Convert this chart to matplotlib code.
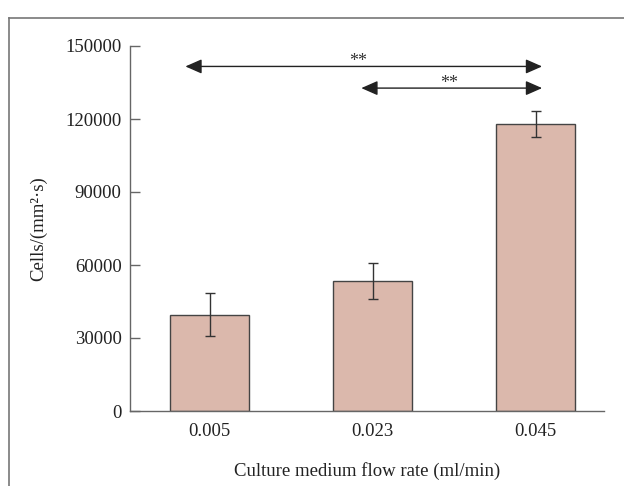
import matplotlib
matplotlib.use("Agg")
import matplotlib.pyplot as plt
from matplotlib.lines import Line2D

categories = ["0.005", "0.023", "0.045"]
values = [39500, 53400, 118100]
errors = [8800, 7500, 5300]
yticks = [0, 30000, 60000, 90000, 120000, 150000]

plt.rcParams['font.family'] = ['Liberation Serif', 'DejaVu Serif']

fig = plt.figure(figsize=(6.24, 4.86), dpi=100)
ax = fig.add_axes([130/624, 1-411/486, (604-130)/624, (411-46)/486])

x = list(range(len(categories)))
ax.bar(x, values, width=0.485, color='#dbb8ac', edgecolor='#444444', linewidth=1.0, zorder=2)
ax.errorbar(x, values, yerr=errors, fmt='none', ecolor='#333333', elinewidth=1.0,
            capsize=3.6, capthick=1.0, zorder=3)

ax.set_xlim(-0.49, 2.42)
ax.set_ylim(0, 150000)
ax.set_yticks(yticks)
ax.set_yticklabels([str(t) for t in yticks])
ax.set_xticks(x)
ax.set_xticklabels(categories)

for s in ['top', 'right']:
    ax.spines[s].set_visible(False)
for s in ['left', 'bottom']:
    ax.spines[s].set_color('#666666')
    ax.spines[s].set_linewidth(1.0)

ax.tick_params(axis='y', direction='in', length=7, width=1, color='#666666',
               labelsize=13.5, pad=6, labelcolor='#222222')
ax.tick_params(axis='x', length=0, labelsize=13.5, pad=8.5, labelcolor='#222222')

ax.set_ylabel("Cells/(mm²·s)", fontsize=13.5, color='#222222', labelpad=13)
ax.set_xlabel("Culture medium flow rate (ml/min)", fontsize=13.5, color='#222222', labelpad=16)

arrow_kw = dict(arrowstyle='<|-|>,head_length=0.5,head_width=0.22', color='#222222',
                lw=1.0, shrinkA=0, shrinkB=0, mutation_scale=20)
ax.annotate('', xy=(2.04, 141600), xytext=(-0.15, 141600), arrowprops=arrow_kw)
ax.annotate('', xy=(2.04, 132700), xytext=(0.93, 132700), arrowprops=arrow_kw)
ax.text(0.91, 140200, '**', ha='center', va='bottom', fontsize=13, color='#333333')
ax.text(1.47, 131300, '**', ha='center', va='bottom', fontsize=13, color='#333333')

# outer frame (top and left edges)
fig.add_artist(Line2D([9/624, 1.0], [1-18/486, 1-18/486], transform=fig.transFigure,
                      color='#777777', lw=1.2))
fig.add_artist(Line2D([9/624, 9/624], [0, 1-18/486], transform=fig.transFigure,
                      color='#777777', lw=1.2))

fig.savefig("out.png", dpi=100)
